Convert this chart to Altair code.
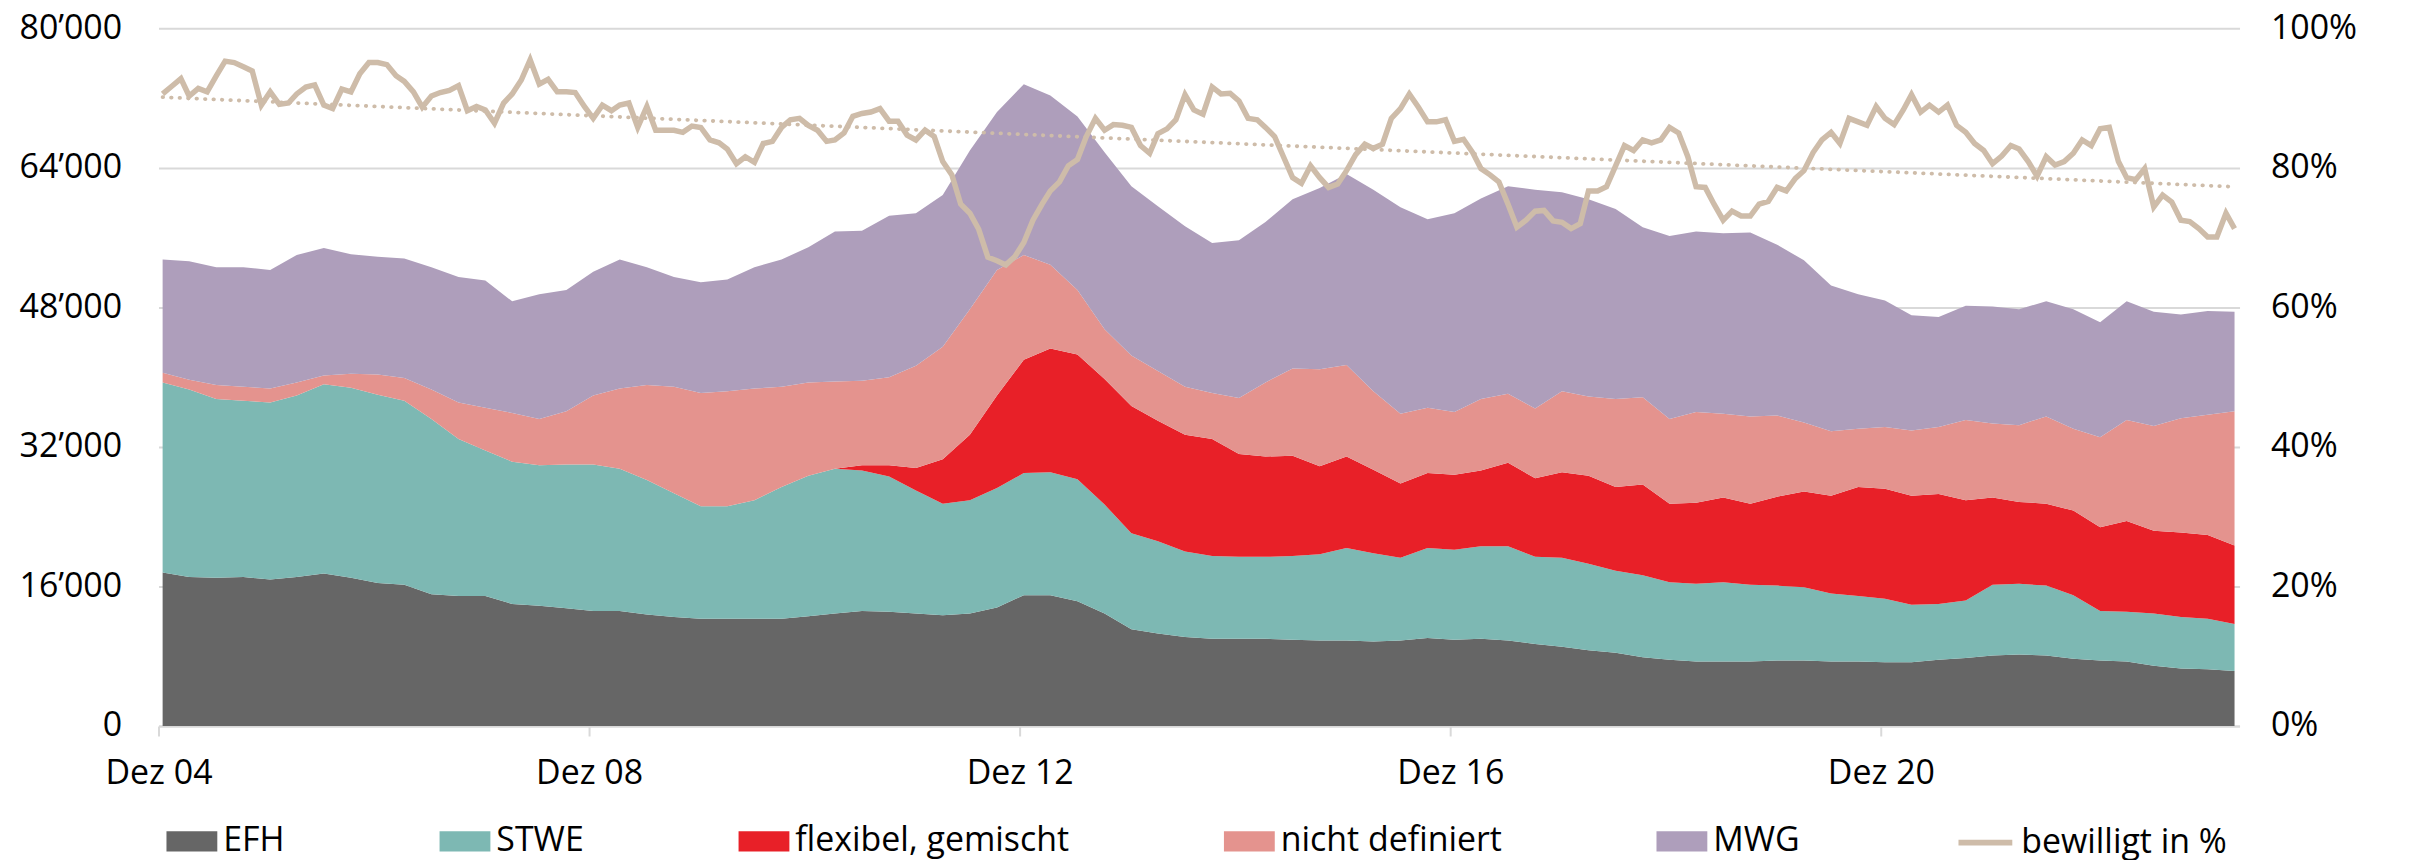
import altair as alt
import pandas as pd

# ---- Stacked series (thousands), quarterly from Dez 2004 to Mär 2024 ----
efh = [17.6, 17.1, 17.0, 17.1, 16.8, 17.1, 17.5, 17.0, 16.4, 16.2, 15.1, 14.9, 14.9,
       14.0, 13.8, 13.5, 13.2, 13.2, 12.8, 12.5, 12.3, 12.3, 12.3, 12.3, 12.6, 12.9,
       13.2, 13.1, 12.9, 12.7, 12.9, 13.6, 15.0, 15.0, 14.3, 12.9, 11.1, 10.6, 10.2,
       10.0, 10.0, 10.0, 9.9, 9.8, 9.8, 9.7, 9.8, 10.1, 9.9, 10.0, 9.8, 9.4,
       9.1, 8.7, 8.4, 7.9, 7.6, 7.4, 7.4, 7.4, 7.5, 7.5, 7.4, 7.4,
       7.3, 7.3, 7.6, 7.8, 8.1, 8.2, 8.1, 7.7, 7.5, 7.4, 6.9, 6.6, 6.5, 6.3]
stwe = [21.8, 21.5, 20.5, 20.2, 20.3, 20.8, 21.7, 21.8, 21.6, 21.1, 20.1, 18.0, 16.7,
        16.3, 16.1, 16.5, 16.8, 16.3, 15.4, 14.2, 12.9, 12.9, 13.6, 15.1, 16.1, 16.6,
        16.1, 15.5, 14.1, 12.8, 13.0, 13.7, 14.0, 14.1, 14.0, 12.5, 11.0, 10.6, 9.8,
        9.5, 9.4, 9.4, 9.6, 9.9, 10.6, 10.1, 9.5, 10.3, 10.3, 10.6, 10.8, 10.0,
        10.2, 9.9, 9.4, 9.4, 8.9, 8.9, 9.1, 8.8, 8.6, 8.4, 7.8, 7.5,
        7.3, 6.6, 6.4, 6.6, 8.1, 8.1, 8.0, 7.3, 5.7, 5.7, 6.0, 5.9, 5.8, 5.4]
flex = [0.0] * 26 + [
        0.6, 1.3, 2.6, 5.1, 7.5, 10.6, 13.0, 14.2, 14.3, 14.4, 14.6, 13.8, 13.4,
        13.4, 11.8, 11.5, 11.5, 10.1, 10.5, 9.6, 8.5, 8.6, 8.6, 8.7, 9.6, 9.0,
        9.8, 10.1, 9.6, 10.4, 9.0, 9.3, 9.7, 9.3, 10.2, 11.0, 11.2, 12.5,
        12.6, 12.5, 12.6, 11.5, 10.0, 9.4, 9.4, 9.7, 9.6, 10.4, 9.5, 9.7, 9.6, 9.0]
nicht = [1.1, 1.1, 1.6, 1.6, 1.6, 1.5, 1.0, 1.6, 2.3, 2.6, 3.4, 4.2, 4.9,
         5.6, 5.3, 6.1, 7.9, 9.2, 10.9, 12.2, 13.0, 13.2, 12.8, 11.5, 10.7, 10.0,
         9.7, 10.1, 11.7, 12.9, 14.4, 14.4, 12.0, 9.6, 7.4, 5.7, 5.8, 5.7, 5.5,
         5.3, 6.4, 8.5, 10.0, 11.1, 10.5, 9.0, 8.0, 7.5, 7.2, 8.2, 7.9, 8.0,
         9.3, 9.1, 10.1, 10.0, 9.7, 10.4, 9.6, 10.0, 9.3, 7.9, 7.4, 6.7,
         7.1, 7.5, 7.7, 9.2, 8.5, 8.8, 10.0, 9.4, 10.3, 11.6, 12.0, 13.1, 13.8, 15.4]
mwg = [13.0, 13.6, 13.5, 13.7, 13.6, 14.6, 14.6, 13.7, 13.5, 13.7, 14.0, 14.4, 14.6,
       12.8, 14.3, 13.9, 14.2, 14.8, 13.5, 12.6, 12.7, 12.8, 13.9, 14.6, 15.5, 17.2,
       17.2, 18.5, 17.5, 17.4, 18.2, 18.1, 19.6, 19.4, 19.9, 20.3, 19.4, 18.9, 18.4,
       17.2, 18.1, 18.4, 19.4, 20.8, 21.9, 23.1, 23.7, 21.6, 22.8, 23.0, 23.8, 25.1,
       22.8, 22.6, 21.8, 19.5, 21.0, 20.7, 20.7, 21.1, 19.6, 18.6, 16.7, 15.4,
       14.5, 13.2, 12.6, 13.1, 13.4, 13.3, 13.2, 13.7, 13.2, 13.6, 13.1, 11.9, 11.9, 11.4]

# ---- Approval rate in %, monthly from Dez 2004 to Mär 2024 ----
bewilligt = [
    90.6, 91.7, 92.8, 90.3, 91.4, 90.9, 93.2, 95.3, 95.1, 94.5, 93.9, 89.0, 90.9, 89.1, 89.3,
    90.6, 91.6, 91.9, 89.0, 88.5, 91.3, 90.9, 93.5, 95.1, 95.1, 94.8, 93.2, 92.4, 90.9, 88.7,
    90.3, 90.8, 91.1, 91.8, 88.2, 88.8, 88.3, 86.4, 89.3,
    90.6, 92.6, 95.5, 92.0, 92.7, 90.9, 90.9, 90.8, 88.8, 87.1, 89.0, 88.2, 89.0, 89.3, 85.8,
    88.8, 85.4, 85.4, 85.4, 85.1, 86.0, 85.8, 84.0, 83.6, 82.7, 80.6, 81.6, 80.8, 83.5, 83.8,
    85.8, 86.9, 87.1, 86.1, 85.4, 83.8, 84.0, 85.0,
    87.4, 87.8, 88.0, 88.5, 86.7, 86.7, 84.7, 84.0, 85.4, 84.5, 80.9, 79.0, 74.8, 73.5, 71.2,
    67.2, 66.7, 66.1, 67.3, 69.3, 72.5, 74.8, 76.7, 78.0, 80.3, 81.2, 84.5, 87.1, 85.4, 86.2,
    86.1, 85.8, 83.2, 82.1, 84.9, 85.6, 86.9, 90.5,
    88.3, 87.7, 91.6, 90.6, 90.7, 89.6, 87.1, 86.9, 85.8, 84.5, 81.6, 78.6, 77.8, 80.3, 78.6,
    77.2, 77.7, 79.6, 81.9, 83.4, 82.8, 83.4, 87.1, 88.5, 90.6, 88.7, 86.6, 86.6, 86.9, 83.8,
    84.1, 82.2, 79.9, 79.0, 78.0, 74.8, 71.5, 72.5,
    73.8, 73.9, 72.4, 72.2, 71.3, 72.0, 76.7, 76.7, 77.3, 80.3, 83.2, 82.5, 84.0, 83.6, 84.0,
    85.8, 85.0, 81.6, 77.3, 77.2, 74.8, 72.5, 73.8, 73.1, 73.1, 74.8, 75.2, 77.2, 76.7, 78.5,
    79.6, 82.2, 84.0, 85.1, 83.5, 87.1, 86.6, 86.1, 88.8,
    87.1, 86.2, 88.3, 90.5, 88.0, 89.0, 88.0, 89.0, 86.1, 85.1, 83.5, 82.5, 80.6, 81.7, 83.2,
    82.7, 80.9, 78.8, 81.6, 80.4, 80.9, 82.1, 84.0, 83.2, 85.6, 85.8, 80.9, 78.6, 78.3, 79.9,
    74.4, 76.1, 75.1, 72.5, 72.3, 71.3, 70.1, 70.1, 73.5, 71.3]

series_names = ["EFH", "STWE", "flexibel, gemischt", "nicht definiert", "MWG"]
series_colors = ["#666666", "#7db8b3", "#e82028", "#e4938e", "#ae9ebb"]
line_name = "bewilligt in %"
line_color = "#cebca9"

left_ticks = [0, 16, 32, 48, 64, 80]
right_ticks = [0, 20, 40, 60, 80, 100]
tick_years = [2004, 2008, 2012, 2016, 2020]

FONT = "Open Sans"
FS = 34

# ---- tables ----
q_dates = pd.date_range("2004-12-01", periods=len(efh), freq="3MS") + pd.Timedelta(days=14)
m_dates = pd.date_range("2004-12-01", periods=len(bewilligt), freq="MS") + pd.Timedelta(days=14)

rows = []
for i, (name, vals) in enumerate(zip(series_names, [efh, stwe, flex, nicht, mwg])):
    for d, v in zip(q_dates, vals):
        rows.append({"date": d.strftime("%Y-%m-%d"), "serie": name, "wert": v, "ord": i})
area_df = pd.DataFrame(rows)

line_df = pd.DataFrame({
    "date": [d.strftime("%Y-%m-%d") for d in m_dates],
    "pct": bewilligt,
    "serie": line_name,
})

x_scale = alt.Scale(type="utc",
                    domain=[alt.DateTime(year=2004, month=12, date=1, utc=True),
                            alt.DateTime(year=2024, month=4, date=1, utc=True)])
x_axis = alt.Axis(values=[alt.DateTime(year=y, month=12, date=1, utc=True) for y in tick_years],
                  labelExpr="'Dez ' + utcFormat(datum.value, '%y')",
                  grid=False, domain=True, domainColor="#d9d9d9", domainWidth=2,
                  ticks=True, tickColor="#d9d9d9", tickWidth=2, tickSize=10,
                  labelPadding=48, labelBaseline="alphabetic", labelFlush=False,
                  labelOverlap=False, labelFontSize=FS, labelFont=FONT, labelColor="black",
                  title=None)
X = alt.X("date:T", scale=x_scale, axis=x_axis)

areas = alt.Chart(area_df).mark_area(interpolate="linear", strokeWidth=0, opacity=1).encode(
    x=X,
    y=alt.Y("wert:Q", stack="zero",
            scale=alt.Scale(domain=[0, 80], nice=False, zero=True),
            axis=alt.Axis(values=left_ticks,
                          labelExpr="datum.value == 0 ? '0' : datum.value + '\u2019000'",
                          grid=True, gridColor="#d9d9d9", gridWidth=2,
                          domain=False, ticks=False, tickSize=0, labelPadding=37,
                          labelFontSize=FS, labelFont=FONT, labelColor="black", title=None)),
    color=alt.Color("serie:N",
                    scale=alt.Scale(domain=series_names, range=series_colors),
                    legend=alt.Legend(orient="none", legendX=8, legendY=790,
                                      direction="horizontal", columns=5, title=None,
                                      symbolType="M-1,-0.4H1V0.4H-1Z", symbolSize=2601,
                                      symbolStrokeWidth=0, symbolOpacity=1,
                                      labelFontSize=FS, labelFont=FONT, labelColor="black",
                                      labelLimit=800, labelOffset=6, columnPadding=155,
                                      padding=0, rowPadding=0)),
    order=alt.Order("ord:Q", sort="ascending"),
)

trend = alt.Chart(line_df).transform_regression("date", "pct").mark_line(
    strokeWidth=3.8, strokeDash=[0.5, 8], strokeCap="round", color=line_color
).encode(
    x=X,
    y=alt.Y("pct:Q", scale=alt.Scale(domain=[0, 100], nice=False), axis=None),
)

line = alt.Chart(line_df).mark_line(strokeWidth=5.5).encode(
    x=X,
    y=alt.Y("pct:Q", scale=alt.Scale(domain=[0, 100], nice=False),
            axis=alt.Axis(orient="right", values=right_ticks,
                          labelExpr="datum.value + '%'", grid=False, domain=False,
                          ticks=False, tickSize=0, labelPadding=31, labelAlign="left",
                          labelFontSize=FS, labelFont=FONT, labelColor="black", title=None)),
    stroke=alt.Stroke("serie:N",
                      scale=alt.Scale(domain=[line_name], range=[line_color]),
                      legend=alt.Legend(orient="none", legendX=1803, legendY=787,
                                        title=None, symbolType="stroke", symbolSize=2916,
                                        symbolStrokeWidth=6, labelFontSize=FS,
                                        labelFont=FONT, labelColor="black",
                                        labelLimit=800, labelOffset=6, padding=0)),
)

chart = alt.layer(areas, trend, line).resolve_scale(
    y="independent"
).properties(
    width=2088, height=700,
    autosize=alt.AutoSizeParams(type="none"),
    padding={"left": 151, "top": 19, "right": 163, "bottom": 133},
).configure(font=FONT).configure_view(stroke=None)

chart.save("out.html", embed_options={"renderer": "svg", "actions": False})
